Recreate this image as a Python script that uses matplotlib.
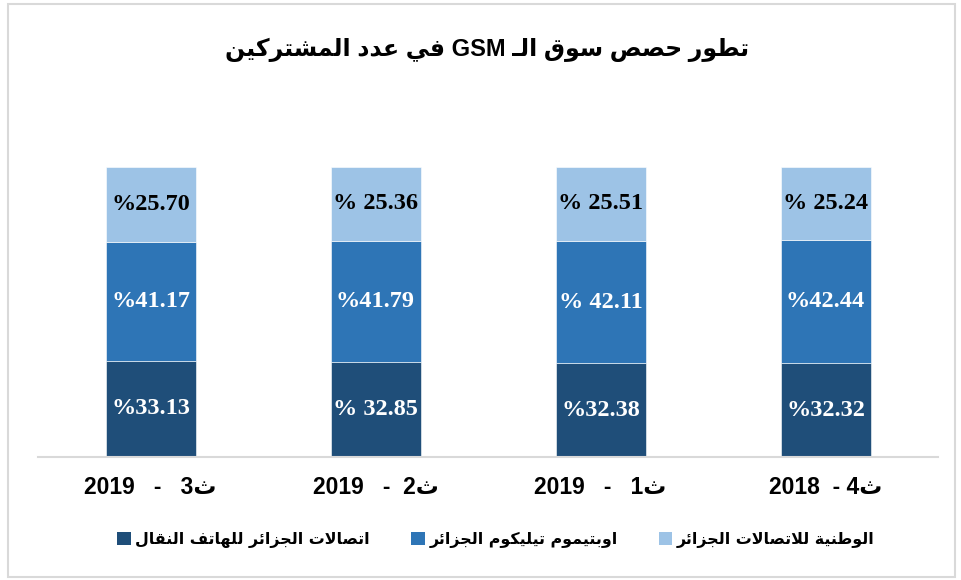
import matplotlib
matplotlib.use("Agg")
import matplotlib.pyplot as plt
from matplotlib.patches import Rectangle, Patch

# data (bottom -> top of each stacked bar)
quarters = ["2019   -   3\u062b", "2019   -  2\u062b", "2019   -   1\u062b", "2018  - 4\u062b"]
mobilis = [33.13, 32.85, 32.38, 32.32]
djezzy = [41.17, 41.79, 42.11, 42.44]
ooredoo = [25.70, 25.36, 25.51, 25.24]
mobilis_lbl = ["%33.13", "% 32.85", "%32.38", "%32.32"]
djezzy_lbl = ["%41.17", "%41.79", "% 42.11", "%42.44"]
ooredoo_lbl = ["%25.70", "% 25.36", "% 25.51", "% 25.24"]
series_names = ["اتصالات الجزائر للهاتف النقال", "اوبتيموم تيليكوم الجزائر", "الوطنية للاتصالات الجزائر"]
colors = ["#1F4E79", "#2E75B6", "#9DC3E6"]

# --- tiny arabic shaper (matplotlib has no shaping / bidi) ---
# iso, fin, ini, med ; None means right-joining only
FORMS = {
    "\u0626": (0xFE89, 0xFE8A, 0xFE8B, 0xFE8C),
    "\u0627": (0xFE8D, 0xFE8E, None, None),
    "\u0628": (0xFE8F, 0xFE90, 0xFE91, 0xFE92),
    "\u0629": (0xFE93, 0xFE94, None, None),
    "\u062A": (0xFE95, 0xFE96, 0xFE97, 0xFE98),
    "\u062B": (0xFE99, 0xFE9A, 0xFE9B, 0xFE9C),
    "\u062C": (0xFE9D, 0xFE9E, 0xFE9F, 0xFEA0),
    "\u062D": (0xFEA1, 0xFEA2, 0xFEA3, 0xFEA4),
    "\u062F": (0xFEA9, 0xFEAA, None, None),
    "\u0631": (0xFEAD, 0xFEAE, None, None),
    "\u0632": (0xFEAF, 0xFEB0, None, None),
    "\u0633": (0xFEB1, 0xFEB2, 0xFEB3, 0xFEB4),
    "\u0634": (0xFEB5, 0xFEB6, 0xFEB7, 0xFEB8),
    "\u0635": (0xFEB9, 0xFEBA, 0xFEBB, 0xFEBC),
    "\u0637": (0xFEC1, 0xFEC2, 0xFEC3, 0xFEC4),
    "\u0639": (0xFEC9, 0xFECA, 0xFECB, 0xFECC),
    "\u0641": (0xFED1, 0xFED2, 0xFED3, 0xFED4),
    "\u0642": (0xFED5, 0xFED6, 0xFED7, 0xFED8),
    "\u0643": (0xFED9, 0xFEDA, 0xFEDB, 0xFEDC),
    "\u0644": (0xFEDD, 0xFEDE, 0xFEDF, 0xFEE0),
    "\u0645": (0xFEE1, 0xFEE2, 0xFEE3, 0xFEE4),
    "\u0646": (0xFEE5, 0xFEE6, 0xFEE7, 0xFEE8),
    "\u0647": (0xFEE9, 0xFEEA, 0xFEEB, 0xFEEC),
    "\u0648": (0xFEED, 0xFEEE, None, None),
    "\u064A": (0xFEF1, 0xFEF2, 0xFEF3, 0xFEF4),
}
TATWEEL = "\u0640"


def joins_next(c):
    return c == TATWEEL or (c in FORMS and FORMS[c][2] is not None)


def is_letter(c):
    return c == TATWEEL or c in FORMS


def ar(text):
    out = []
    i = 0
    n = len(text)
    while i < n:
        c = text[i]
        prev = text[i - 1] if i > 0 else " "
        link_prev = joins_next(prev) and is_letter(c)
        if c == "\u0644" and i + 1 < n and text[i + 1] == "\u0627":
            out.append(chr(0xFEFC if link_prev else 0xFEFB))
            i += 2
            continue
        if c not in FORMS:
            out.append(c)
            i += 1
            continue
        nxt = text[i + 1] if i + 1 < n else " "
        link_next = joins_next(c) and is_letter(nxt)
        iso, fin, ini, med = FORMS[c]
        if link_prev and link_next:
            g = med
        elif link_prev:
            g = fin
        elif link_next:
            g = ini
        else:
            g = iso
        out.append(chr(g))
        i += 1
    return "".join(out)[::-1]


def ar_tick(s):
    # digits stay LTR, arabic letter gets shaped
    return "".join(ar(ch) if ch in FORMS else ch for ch in s)


title = ar("في عدد المشتركين") + " GSM " + ar("تطور حصص سوق الـ")

fig = plt.figure(figsize=(9.61, 5.80), dpi=100)
fig.patch.set_facecolor("white")
fig.patches.append(Rectangle((8 / 961, 3 / 580), 947 / 961, 573 / 580, transform=fig.transFigure,
                             fill=False, edgecolor="#d9d9d9", linewidth=1.5))

ax = fig.add_axes([38 / 961, 1 - 457 / 580, 900 / 961, 290 / 580])
x = range(len(quarters))
bottoms2 = [a + b for a, b in zip(mobilis, djezzy)]
b1 = ax.bar(x, mobilis, width=0.4, color=colors[0], edgecolor="white", linewidth=0.4)
b2 = ax.bar(x, djezzy, width=0.4, bottom=mobilis, color=colors[1], edgecolor="white", linewidth=0.4)
b3 = ax.bar(x, ooredoo, width=0.4, bottom=bottoms2, color=colors[2], edgecolor="white", linewidth=0.4)

lab_font = dict(family="Liberation Serif", weight="bold", fontsize=17.5)
ax.bar_label(b1, labels=mobilis_lbl, label_type="center", color="white", **lab_font)
ax.bar_label(b2, labels=djezzy_lbl, label_type="center", color="white", **lab_font)
ax.bar_label(b3, labels=ooredoo_lbl, label_type="center", color="black", **lab_font)

ax.set_xlim(-0.5, 3.5)
ax.set_ylim(0, 100)
ax.set_yticks([])
ax.set_xticks(list(x))
ax.set_xticklabels([ar_tick(q) for q in quarters], family=["Liberation Sans", "DejaVu Sans"],
                   fontweight="bold", fontsize=16.5)
ax.tick_params(axis="x", length=0, pad=14)
for s in ["top", "right", "left"]:
    ax.spines[s].set_visible(False)
ax.spines["bottom"].set_color("#d9d9d9")
ax.spines["bottom"].set_linewidth(1.5)

fig.text(0.507, 1 - 50 / 580, title, ha="center", va="center", fontsize=17, fontweight="bold",
         family=["Liberation Sans", "DejaVu Sans"])

handles = [Patch(facecolor=c) for c in colors]
fig.legend(handles, [ar(s) for s in series_names], loc="center", bbox_to_anchor=(0.516, 1 - 540 / 580),
           ncol=3, frameon=False, prop=dict(family="DejaVu Sans", weight="bold", size=11.4),
           handlelength=0.85, handleheight=0.85, handletextpad=0.3, columnspacing=2.6)

fig.savefig("out.png", dpi=100)
